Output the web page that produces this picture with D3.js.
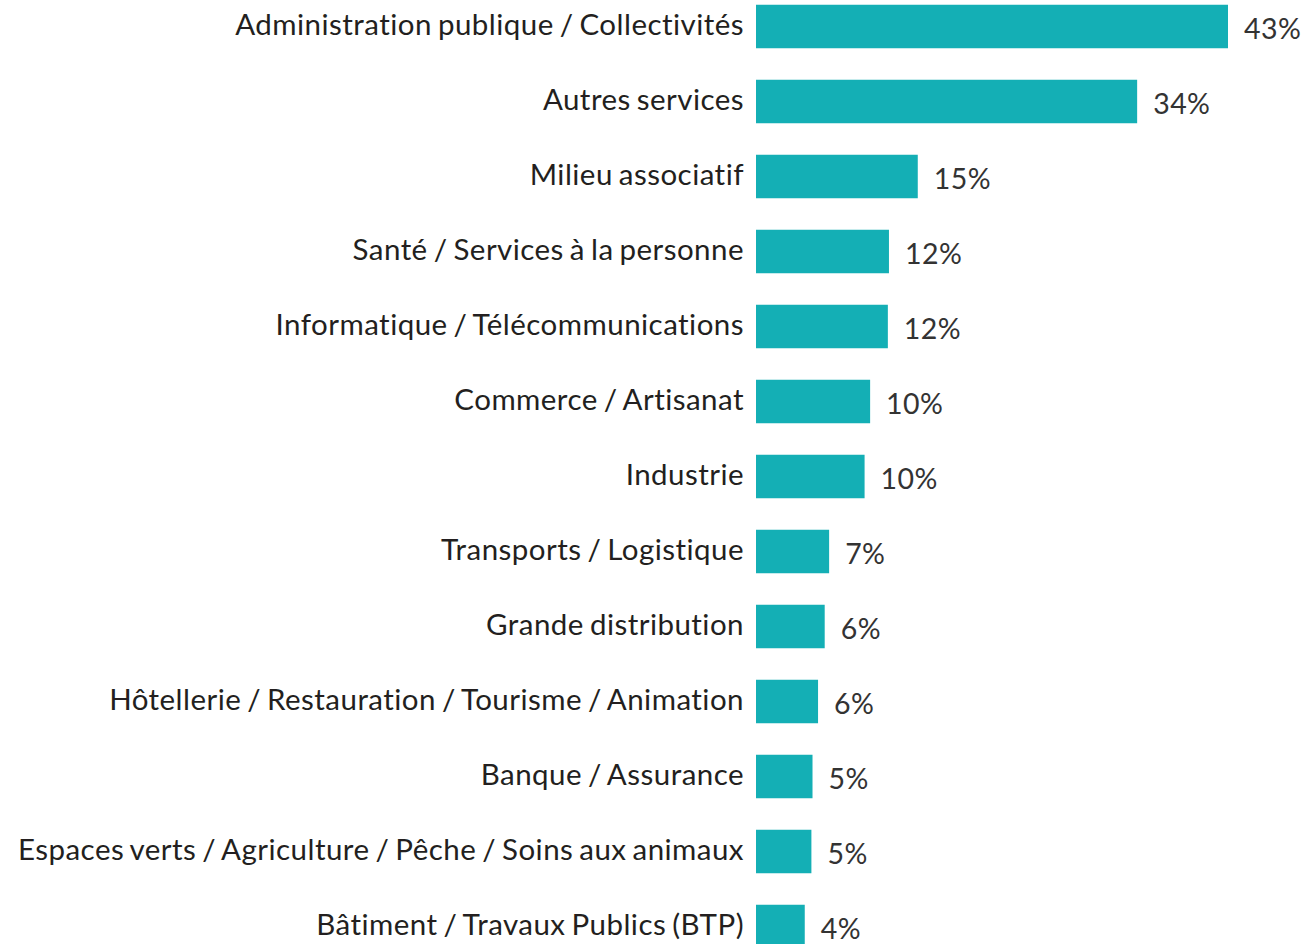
<!DOCTYPE html>
<html>
<head>
<meta charset="utf-8">
<script src="https://cdn.jsdelivr.net/npm/d3@7"></script>
<style>
  html, body { margin: 0; padding: 0; background: #fff; }
  svg { display: block; }
</style>
</head>
<body>
<svg id="chart" width="1309" height="944"></svg>
<script>
// secteurs d'activité
const categories = [
  'Administration publique / Collectivités',
  'Autres services',
  'Milieu associatif',
  'Santé / Services à la personne',
  'Informatique / Télécommunications',
  'Commerce / Artisanat',
  'Industrie',
  'Transports / Logistique',
  'Grande distribution',
  'Hôtellerie / Restauration / Tourisme / Animation',
  'Banque / Assurance',
  'Espaces verts / Agriculture / Pêche / Soins aux animaux',
  'Bâtiment / Travaux Publics (BTP)'
];
const values = [42.6, 34.4, 14.6, 12.0, 11.9, 10.3, 9.8, 6.6, 6.2, 5.6, 5.1, 5.0, 4.4];

const svg = d3.select('#chart');
const barColor = '#14afb5';
const textColor = '#231f20';
const fontFamily = 'Lato, "Open Sans", sans-serif';
const fs = 29.5;

const x = d3.scaleLinear()
  .domain([0, d3.max(values)])
  .range([756, 1228]);

const y = d3.scaleBand()
  .domain(categories)
  .range([4.75, 4.75 + 75 * 12.58])
  .paddingInner(0.42)
  .paddingOuter(0);

const rows = categories.map((c, i) => ({ name: c, value: values[i] }));

svg.selectAll('rect.bar')
  .data(rows)
  .join('rect')
  .attr('class', 'bar')
  .attr('x', x(0))
  .attr('y', d => y(d.name))
  .attr('width', d => x(d.value) - x(0))
  .attr('height', y.bandwidth())
  .attr('fill', barColor);

const labels = svg.selectAll('text.cat')
  .data(rows)
  .join('text')
  .attr('class', 'cat')
  .attr('x', x(0) - 12)
  .attr('y', d => y(d.name) + y.bandwidth() / 2 + 8)
  .attr('text-anchor', 'end')
  .attr('fill', textColor)
  .style('font-family', fontFamily)
  .style('font-size', fs + 'px')
  .style('word-spacing', '-2px')
  .text(d => d.name);

// tighten letters so the longest label spans like the original (narrower face)
let widest = 0, longest = '';
labels.each(function(d){
  const w = this.getComputedTextLength();
  if(w > widest){ widest = w; longest = d.name; }
});
const ls = (726 - widest) / longest.length;
labels.style('letter-spacing', ls + 'px');

svg.selectAll('text.val')
  .data(rows)
  .join('text')
  .attr('class', 'val')
  .attr('x', d => x(d.value) + 16)
  .attr('y', d => y(d.name) + y.bandwidth() / 2 + 12)
  .attr('fill', '#333')
  .style('font-family', fontFamily)
  .style('font-size', (fs - 1) + 'px')
  .style('letter-spacing', ls + 'px')
  .text(d => Math.round(d.value) + '%');
</script>
</body>
</html>
